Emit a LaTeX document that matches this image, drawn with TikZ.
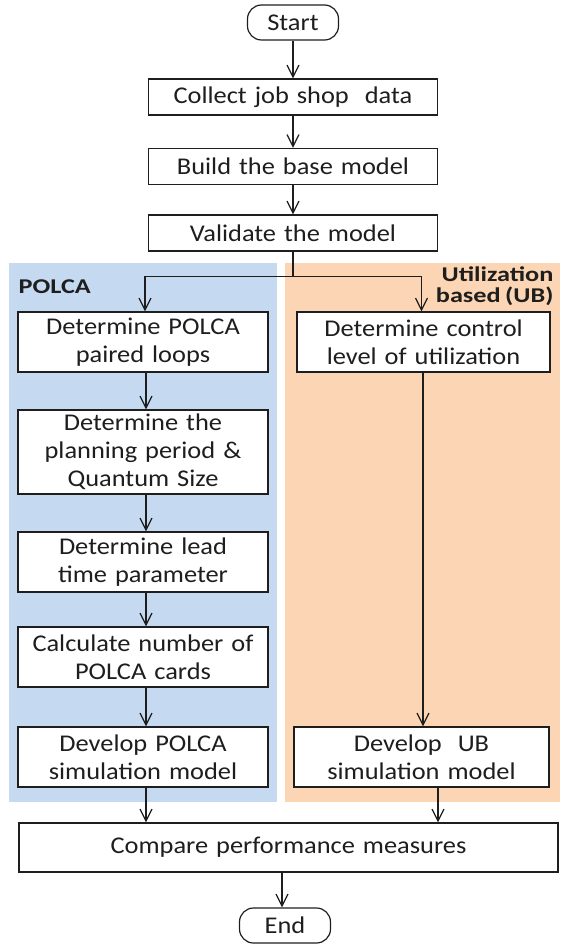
\documentclass[tikz,border=0pt]{standalone}
\usepackage{fontspec}
\setmainfont{Carlito}[FakeStretch=1.1, WordSpace=0.75]
\usepackage{xcolor}
\usetikzlibrary{shapes,arrows.meta,positioning}
\definecolor{polcablue}{RGB}{197,217,241}
\definecolor{ubpeach}{RGB}{252,213,180}
\definecolor{inkgray}{RGB}{30,30,30}
\tikzstyle{term} = [rectangle, draw, rounded corners=14pt, 
    minimum width=91pt, minimum height=35pt, inner sep=0pt]
\tikzstyle{wideblock} = [rectangle, draw, fill=white, 
    text width=289pt, align=center, minimum height=36pt, inner sep=0pt]
\tikzstyle{block} = [rectangle, draw, fill=white, 
    text width=250pt, align=center, minimum height=60pt, inner sep=0pt]
\tikzstyle{arrow} = [draw, -{Straight Barb[length=12pt,width=12pt]}]
\tikzstyle{lane} = [font=\bfseries\fontsize{21}{21}\selectfont\addfontfeature{FakeStretch=1.25}, inner sep=0pt]

\begin{document}
\begin{tikzpicture}[x=1pt, y=1pt, line width=1.2pt, color=inkgray, font=\fontsize{24}{28}\selectfont]
			% Lanes
			\useasboundingbox (0,0) rectangle (560,-944);
			\fill [polcablue] (9,-263) rectangle (277,-802);
			\fill [ubpeach] (285,-263) rectangle (560,-802);
			\node [lane, anchor=base west] (polcalabel) at (18,-293) {POLCA};
			\node [lane, anchor=north east, align=right] (ublabel) at (554,-266) {Utilization\\based (UB)};
			% Place nodes
			\node [term] (start) at (293,-22.5) {Start};
			\node [wideblock, below of=start, node distance=74.5pt] (collect) {Collect job shop\ \ data};
			\node [wideblock, below of=collect, node distance=69.5pt] (build) {Build the base model};
			\node [wideblock, below of=build, node distance=66.5pt] (validate) {Validate the model};
			\node [block] (loops) at (143,-342) {Determine POLCA\\paired loops};
			\node [block, below of=loops, node distance=110pt, minimum height=84pt] (planning) {Determine the\\planning period \&\\Quantum Size};
			\node [block, below of=planning, node distance=110pt] (leadtime) {Determine lead\\time parameter};
			\node [block, below of=leadtime, node distance=95pt] (cards) {Calculate number of\\POLCA cards};
			\node [block, below of=cards, node distance=100pt] (polcasim) {Develop POLCA\\simulation model};
			\node [block, text width=253pt] (control) at (423.5,-342) {Determine control\\level of utilization};
			\node [block, text width=255pt] (ubsim) at (421.5,-757) {Develop\ \ UB\\simulation model};
			\node [wideblock, text width=539pt, minimum height=49pt] (compare) at (288.5,-847.5) {Compare performance measures};
			\node [term] (end) at (285,-925.5) {End};
			%
			\path [arrow] (start) -- (collect);
			\path [arrow] (collect) -- (build);
			\path [arrow] (build) -- (validate);
			\path [arrow] (validate.south) -- ++(0,-25) -| ([xshift=2pt]loops.north);
			\path [arrow] (validate.south) -- ++(0,-25) -| ([xshift=-2pt]control.north);
			\path [arrow] ([xshift=3pt]loops.south) -- ([xshift=3pt]planning.north);
			\path [arrow] ([xshift=3pt]planning.south) -- ([xshift=3pt]leadtime.north);
			\path [arrow] ([xshift=3pt]leadtime.south) -- ([xshift=3pt]cards.north);
			\path [arrow] ([xshift=3pt]cards.south) -- ([xshift=3pt]polcasim.north);
			\path [arrow] ([xshift=-0.5pt]control.south) -- ([xshift=-0.5pt]control.south |- ubsim.north);
			\path [arrow] ([xshift=3pt]polcasim.south) -- ([xshift=3pt]polcasim.south |- compare.north);
			\path [arrow] ([xshift=16.5pt]ubsim.south) -- ([xshift=16.5pt]ubsim.south |- compare.north);
			\path [arrow] ([xshift=-3pt]end.north |- compare.south) -- ([xshift=-3pt]end.north);
	\end{tikzpicture}
\end{document}
